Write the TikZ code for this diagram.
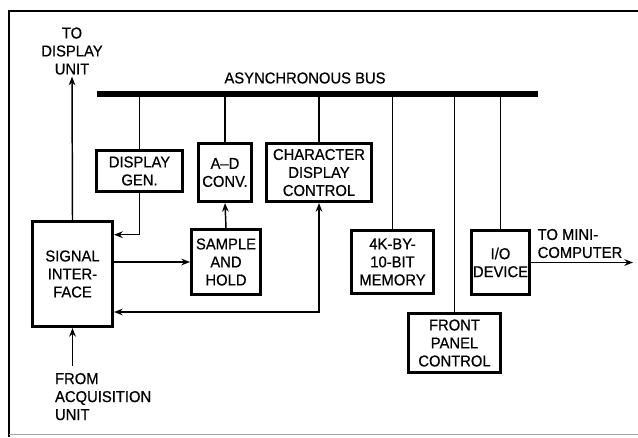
\documentclass[tikz,border=0pt]{standalone}
\usepackage{fontspec}
\setmainfont{Liberation Sans}[FakeStretch=0.94,FakeBold=0.6]
\usetikzlibrary{arrows.meta}

\begin{document}
\begin{tikzpicture}[x=.75pt,y=-.75pt,>={Stealth[length=6.5pt,width=5pt]},line width=1.1pt,
  font=\fontsize{11.8}{13.5}\selectfont,
  unit/.style={draw,line width=2.3pt,align=center,inner sep=1pt},
  note/.style={align=center,inner sep=1pt}]
\useasboundingbox (0,0) rectangle (638,437);
\draw[line width=1.5pt] (638,11)--(9,11)--(9,437);
\draw[line width=.6pt,black!35] (9,434)--(638,434);
% bus
\draw[line width=4.5pt] (97,94) coordinate (busL)--(538,94) coordinate (busR);
\node[note] (buslbl) at (305,78) {ASYNCHRONOUS BUS};
% units
\node[unit,minimum width=60pt,minimum height=78.7pt] (sigif) at (72.5,274) {SIGNAL\\INTER-\\FACE};
\node[unit,minimum width=64.5pt,minimum height=30.7pt] (dispgen) at (139.5,171) {DISPLAY\\GEN.};
\node[unit,minimum width=39.7pt,minimum height=43.5pt] (adconv) at (225,172.5) {A--D\\CONV.};
\node[unit,minimum width=78.7pt,minimum height=43.5pt] (chardisp) at (319,172.5) {CHARACTER\\DISPLAY\\CONTROL};
\node[unit,minimum width=51.7pt,minimum height=48.7pt] (sample) at (226,262) {SAMPLE\\AND\\HOLD};
\node[unit,minimum width=61.5pt,minimum height=47.2pt] (memory) at (392.5,262) {4K-BY-\\10-BIT\\MEMORY};
\node[unit,minimum width=42pt,minimum height=48pt] (iodev) at (500.5,262.5) {I/O\\DEVICE};
\node[unit,minimum width=69pt,minimum height=44.2pt] (front) at (454.5,343) {FRONT\\PANEL\\CONTROL};
\foreach \n in {dispgen,adconv,chardisp,memory,front,iodev}{\draw (\n.north)--(\n.north |- busL);}
% outside ends
\node[note] (todisp) at (72,51) {TO\\DISPLAY\\UNIT};
\node[note,align=left,anchor=north west] (fromacq) at (53,371) {FROM\\ACQUISITION\\UNIT};
\node[note,align=left] (tomini) at (580,243.5) {TO MINI-\\COMPUTER};
\coordinate (mini) at (633,262.5);
% signal paths
\draw[->] (sigif.north)--(todisp.south);
\draw[->] ([yshift=4pt]sigif.south |- fromacq.north)--(sigif.south);
\draw[->] (dispgen.south) |- ([yshift=-11pt]sigif.north east);
\draw[->] (sigif.east |- sample.west)--(sample.west);
\draw[->] (sample.north)--(adconv.south);
\draw[<->] ([yshift=12pt]sigif.south east) -| (chardisp.south);
\draw[->] (iodev.east)--(mini);
\end{tikzpicture}
\end{document}
